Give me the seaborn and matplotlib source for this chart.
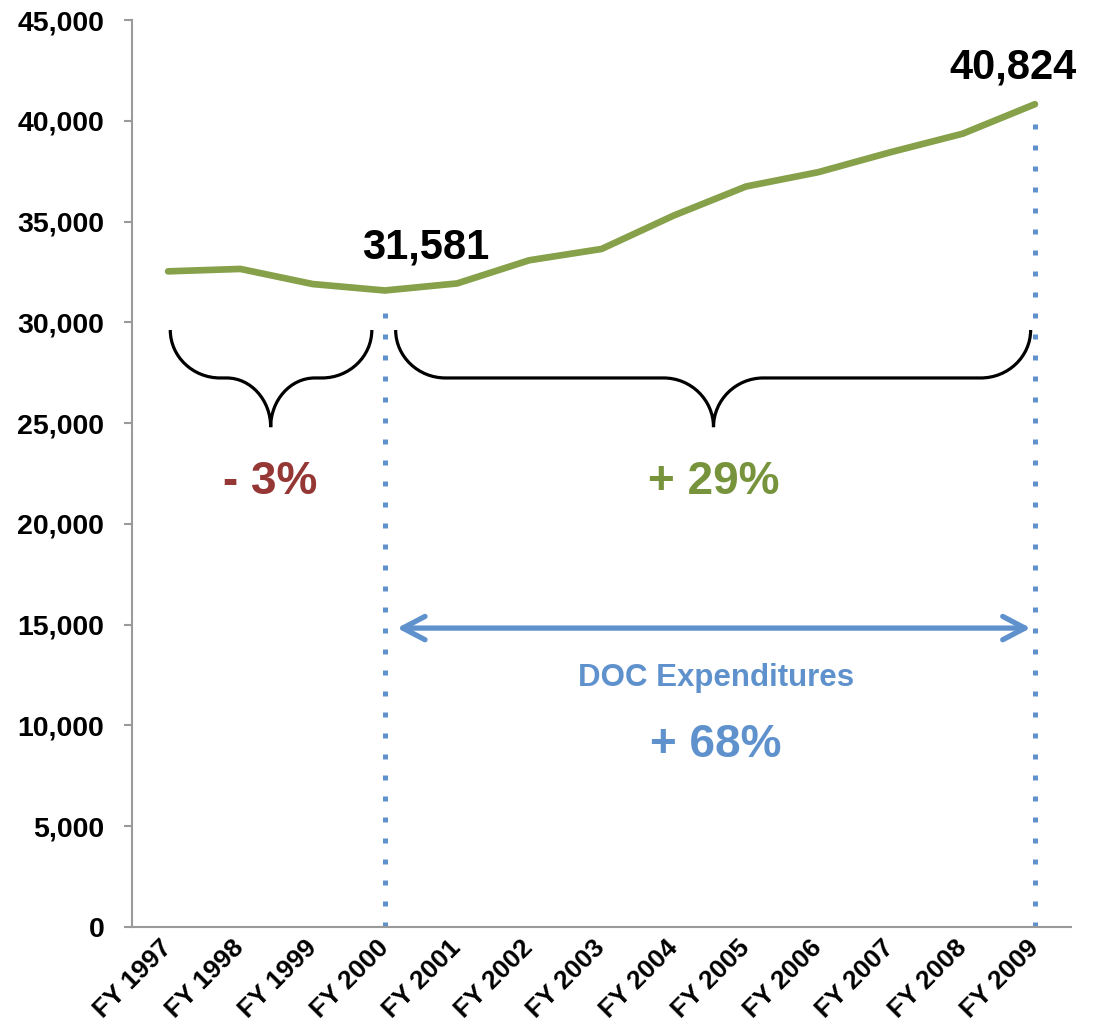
import matplotlib
matplotlib.use("Agg")
import matplotlib.pyplot as plt
from matplotlib.path import Path
from matplotlib.patches import PathPatch
from matplotlib.ticker import FuncFormatter
import numpy as np
import pandas as pd
import seaborn as sns

years = ["FY 1997", "FY 1998", "FY 1999", "FY 2000", "FY 2001", "FY 2002", "FY 2003",
         "FY 2004", "FY 2005", "FY 2006", "FY 2007", "FY 2008", "FY 2009"]
population = [32530, 32650, 31900, 31581, 31930, 33080, 33640,
              35300, 36740, 37450, 38440, 39360, 40824]
y_ticks = [0, 5000, 10000, 15000, 20000, 25000, 30000, 35000, 40000, 45000]
low_label = "31,581"
high_label = "40,824"
decline_label = "- 3%"
growth_label = "+ 29%"
spend_title = "DOC Expenditures"
spend_label = "+ 68%"

GREEN = "#86A14A"
GREEN_TEXT = "#77933C"
RED_TEXT = "#953735"
BLUE = "#5F92CC"
GREY = "#9A9A9A"


def brace(ax, x0, x1, xc, ytop, ymid, ytip, r_end, r_tip):
    # curly brace opening upward, tip pointing down
    verts = [
        (x0, ytop),
        (x0, ytop - 0.55 * (ytop - ymid)), (x0 + 0.45 * r_end, ymid), (x0 + r_end, ymid),
        (xc - r_tip, ymid),
        (xc - 0.45 * r_tip, ymid), (xc, ymid - 0.45 * (ymid - ytip)), (xc, ytip),
        (xc, ymid - 0.45 * (ymid - ytip)), (xc + 0.45 * r_tip, ymid), (xc + r_tip, ymid),
        (x1 - r_end, ymid),
        (x1 - 0.45 * r_end, ymid), (x1, ytop - 0.55 * (ytop - ymid)), (x1, ytop),
    ]
    codes = [Path.MOVETO] + [Path.CURVE4] * 3 + [Path.LINETO] + [Path.CURVE4] * 6 \
        + [Path.LINETO] + [Path.CURVE4] * 3
    ax.add_patch(PathPatch(Path(verts, codes), fill=False, lw=2.3, color="black",
                           capstyle="butt", zorder=3))


df = pd.DataFrame({"Year": years, "Population": population})

sns.set_theme(style="white")
plt.rcParams["font.family"] = ["Liberation Sans", "DejaVu Sans"]
plt.rcParams["font.weight"] = "bold"
plt.rcParams["text.color"] = "black"
plt.rcParams["xtick.labelcolor"] = "black"
plt.rcParams["ytick.labelcolor"] = "black"

fig = plt.figure(figsize=(10.99, 10.26), dpi=100)
ax = fig.add_axes([0.1201, 0.0965, 0.8545, 0.884])

sns.lineplot(data=df, x="Year", y="Population", sort=False, color=GREEN,
             linewidth=4.8, ax=ax, zorder=4, solid_capstyle="round")

ax.set_xlim(-0.5, len(years) - 0.5)
ax.set_ylim(0, 45000)
ax.set_yticks(y_ticks)
ax.yaxis.set_major_formatter(FuncFormatter(lambda v, p: f"{int(v):,}"))
ax.set_xticks(range(len(years)))
ax.set_xticklabels(years, rotation=45, ha="right", va="center",
                   rotation_mode="anchor", fontsize=19, fontweight="bold", color="black")
ax.set_xticks(np.arange(-0.5, len(years), 1.0), minor=True)
ax.tick_params(axis="x", which="major", length=0, pad=12)
ax.tick_params(axis="x", which="minor", length=7, width=1.5, color=GREY, direction="out")
ax.tick_params(axis="y", length=6, width=1.5, color=GREY, direction="out", pad=14,
               labelsize=20.5, left=True, labelcolor="black")
for lbl in ax.get_yticklabels():
    lbl.set_fontweight("bold")
ax.set_xlabel("")
ax.set_ylabel("")
for side in ["top", "right"]:
    ax.spines[side].set_visible(False)
for side in ["left", "bottom"]:
    ax.spines[side].set_color(GREY)
    ax.spines[side].set_linewidth(1.5)

# dotted guides from the low point and the end point
i_low, i_high = 3, len(years) - 1
ax.vlines([i_low, i_high], 0, [population[i_low] - 600, population[i_high] - 400],
          colors=BLUE, linestyles=(0, (1, 3.2)), linewidth=3.6, zorder=2)

ax.text(3.56, 33700, low_label, ha="center", va="center", fontsize=30,
        fontweight="bold", color="black")
ax.text(11.70, 42620, high_label, ha="center", va="center", fontsize=30,
        fontweight="bold", color="black")

brace(ax, 0.03, 2.82, 1.42, 29620, 27240, 24800, 0.69, 0.61)
brace(ax, 3.15, 11.94, 7.55, 29620, 27240, 24800, 0.69, 0.69)

ax.text(1.42, 22080, decline_label, ha="center", va="center", fontsize=33,
        fontweight="bold", color=RED_TEXT)
ax.text(7.55, 22080, growth_label, ha="center", va="center", fontsize=33,
        fontweight="bold", color=GREEN_TEXT)

ax.annotate("", xy=(3.17, 14830), xytext=(11.94, 14830),
            arrowprops=dict(arrowstyle="<->,head_length=0.8,head_width=0.42",
                            color=BLUE, lw=3.8, shrinkA=0, shrinkB=0,
                            mutation_scale=20))
ax.text(7.58, 12350, spend_title, ha="center", va="center", fontsize=22.5,
        fontweight="bold", color=BLUE)
ax.text(7.58, 9030, spend_label, ha="center", va="center", fontsize=33,
        fontweight="bold", color=BLUE)

fig.savefig("out.png", dpi=100)
